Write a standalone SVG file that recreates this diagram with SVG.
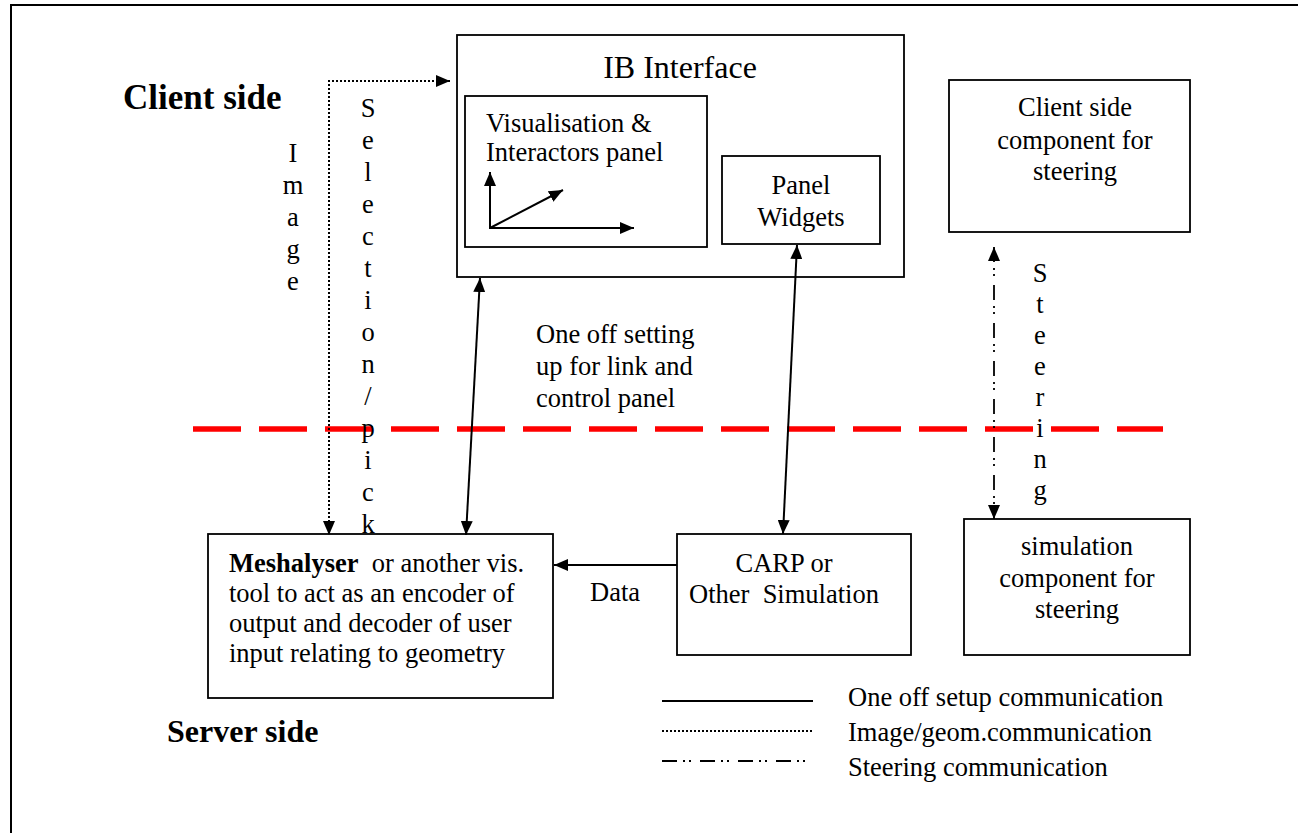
<svg xmlns="http://www.w3.org/2000/svg" width="1298" height="833" viewBox="0 0 1298 833">
  <style>
    .box { fill: #fff; stroke: #000; stroke-width: 1.8; }
    .t { font-family: "Liberation Serif", "Times New Roman", Tinos, Times, "DejaVu Serif", serif; font-size: 26.5px; font-weight: normal; fill: #000; }
    .c { text-anchor: middle; }
    .b { font-weight: bold; font-size: 32px; }
    .solid { stroke: #000; stroke-width: 2; fill: none; }
    .dot { stroke: #000; stroke-width: 2; stroke-dasharray: 2 2; fill: none; }
    .dashdot { stroke: #000; stroke-width: 1.8; stroke-dasharray: 15 6 2 4 2 9; fill: none; }
  </style>
  <defs>
    <marker id="ah" viewBox="0 0 14 12" refX="14" refY="6" markerWidth="14" markerHeight="12" markerUnits="userSpaceOnUse" orient="auto-start-reverse">
      <path d="M0,0 L14,6 L0,12 Z" fill="#000"/>
    </marker>
  </defs>

  <rect width="1298" height="833" fill="#fff"/>
  <!-- page frame -->
  <rect x="11" y="5" width="1300" height="840" fill="none" stroke="#000" stroke-width="2"/>

  <!-- side labels -->
  <text class="t b" x="123" y="109" style="font-size:35px">Client side</text>
  <text class="t b" x="167" y="742">Server side</text>

  <!-- client / server boundary -->
  <line x1="193" y1="429" x2="1163" y2="429" stroke="#f00" stroke-width="5.5" stroke-dasharray="48 18"/>

  <g id="ib-interface">
    <rect class="box" x="457" y="35" width="447" height="242"/>
    <text class="t c" x="680" y="78" style="font-size:32px">IB Interface</text>
  </g>

  <g id="vis-panel">
    <rect class="box" x="465" y="96" width="242" height="151"/>
    <text class="t" x="486" y="132">Visualisation &amp;</text>
    <text class="t" x="486" y="161">Interactors panel</text>
    <line class="solid" x1="490" y1="228" x2="490" y2="172" marker-end="url(#ah)"/>
    <line class="solid" x1="489" y1="228" x2="634" y2="228" marker-end="url(#ah)"/>
    <line class="solid" x1="490" y1="228" x2="563" y2="190" marker-end="url(#ah)"/>
  </g>

  <g id="panel-widgets">
    <rect class="box" x="722" y="156" width="158" height="88"/>
    <text class="t c" x="801" y="194">Panel</text>
    <text class="t c" x="801" y="226">Widgets</text>
  </g>

  <g id="client-steering">
    <rect class="box" x="949" y="80" width="241" height="152"/>
    <text class="t c" x="1075" y="116">Client side</text>
    <text class="t c" x="1075" y="149">component for</text>
    <text class="t c" x="1075" y="180">steering</text>
  </g>

  <g id="meshalyser">
    <rect class="box" x="208" y="534" width="345" height="164"/>
    <text class="t" x="229" y="572" xml:space="preserve"><tspan font-weight="bold">Meshalyser</tspan>  or another vis.</text>
    <text class="t" x="229" y="602">tool to act as an encoder of</text>
    <text class="t" x="229" y="632">output and decoder of user</text>
    <text class="t" x="229" y="662">input relating to geometry</text>
  </g>

  <g id="carp">
    <rect class="box" x="677" y="534" width="234" height="121"/>
    <text class="t c" x="784" y="572">CARP or</text>
    <text class="t c" x="784" y="603" xml:space="preserve">Other  Simulation</text>
  </g>

  <g id="sim-steering">
    <rect class="box" x="964" y="519" width="226" height="136"/>
    <text class="t c" x="1077" y="555">simulation</text>
    <text class="t c" x="1077" y="587">component for</text>
    <text class="t c" x="1077" y="618">steering</text>
  </g>

  <g id="connectors">
    <!-- image / selection path -->
    <polyline class="dot" points="450,81 329,81 329,535" marker-start="url(#ah)" marker-end="url(#ah)"/>
    <!-- one-off setup links -->
    <line class="solid" x1="480" y1="278" x2="466" y2="535" marker-start="url(#ah)" marker-end="url(#ah)"/>
    <line class="solid" x1="797" y1="245" x2="783" y2="534" marker-start="url(#ah)" marker-end="url(#ah)"/>
    <!-- data -->
    <line class="solid" x1="677" y1="565" x2="554" y2="565" marker-end="url(#ah)"/>
    <!-- steering -->
    <line class="dashdot" x1="994" y1="247" x2="994" y2="519" marker-start="url(#ah)" marker-end="url(#ah)"/>
  </g>

  <g id="connector-labels">
    <g class="t c">
      <text x="293" y="162">I</text>
      <text x="293" y="194">m</text>
      <text x="293" y="226">a</text>
      <text x="293" y="258">g</text>
      <text x="293" y="290">e</text>
    </g>
    <g class="t c">
      <text x="368" y="117">S</text>
      <text x="368" y="149">e</text>
      <text x="368" y="181">l</text>
      <text x="368" y="213">e</text>
      <text x="368" y="245">c</text>
      <text x="368" y="277">t</text>
      <text x="368" y="309">i</text>
      <text x="368" y="341">o</text>
      <text x="368" y="373">n</text>
      <text x="368" y="405">/</text>
      <text x="368" y="437">p</text>
      <text x="368" y="469">i</text>
      <text x="368" y="501">c</text>
      <text x="368" y="533">k</text>
    </g>
    <g class="t c">
      <text x="1040" y="282">S</text>
      <text x="1040" y="313">t</text>
      <text x="1040" y="344">e</text>
      <text x="1040" y="375">e</text>
      <text x="1040" y="406">r</text>
      <text x="1040" y="437">i</text>
      <text x="1040" y="468">n</text>
      <text x="1040" y="499">g</text>
    </g>
    <text class="t" x="536" y="343">One off setting</text>
    <text class="t" x="536" y="375">up for link and</text>
    <text class="t" x="536" y="407">control panel</text>
    <text class="t" x="590" y="601">Data</text>
  </g>

  <g id="legend">
    <line class="solid" x1="662" y1="701" x2="813" y2="701"/>
    <line class="dot" x1="662" y1="731" x2="813" y2="731"/>
    <line class="dashdot" x1="662" y1="761" x2="813" y2="761"/>
    <text class="t" x="848" y="706">One off setup communication</text>
    <text class="t" x="848" y="741">Image/geom.communication</text>
    <text class="t" x="848" y="776">Steering communication</text>
  </g>
</svg>
